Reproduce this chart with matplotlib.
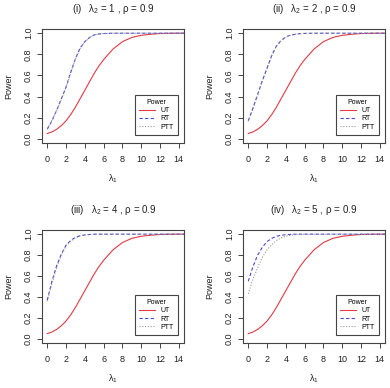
import numpy as np
import matplotlib
matplotlib.use("Agg")
import matplotlib.pyplot as plt

plt.rcParams['font.family'] = ['Liberation Sans', 'DejaVu Sans']
plt.rcParams['mathtext.fontset'] = 'custom'
plt.rcParams['mathtext.rm'] = 'Liberation Sans'

# ---- data ----
lam1 = [0, 0.5, 1, 1.5, 2, 2.5, 3, 3.5, 4, 4.5, 5, 5.5, 6, 7, 8, 9, 10, 11, 12, 13, 14, 15]

ut = [0.05, 0.065, 0.09, 0.125, 0.17, 0.23, 0.30, 0.38, 0.46, 0.54, 0.62, 0.69, 0.75,
      0.85, 0.92, 0.96, 0.98, 0.99, 0.997, 0.999, 1.0, 1.0]

rt_1 = [0.09, 0.17, 0.27, 0.38, 0.49, 0.63, 0.76, 0.86, 0.92, 0.96, 0.985, 0.993, 0.997,
        1.0, 1.0, 1.0, 1.0, 1.0, 1.0, 1.0, 1.0, 1.0]
ptt_1 = [0.10, 0.175, 0.265, 0.375, 0.485, 0.625, 0.755, 0.855, 0.918, 0.958, 0.983, 0.992, 0.997,
         1.0, 1.0, 1.0, 1.0, 1.0, 1.0, 1.0, 1.0, 1.0]

rt_2 = [0.17, 0.29, 0.42, 0.55, 0.67, 0.79, 0.88, 0.93, 0.965, 0.982, 0.99, 0.996, 0.998,
        1.0, 1.0, 1.0, 1.0, 1.0, 1.0, 1.0, 1.0, 1.0]
ptt_2 = [0.165, 0.285, 0.415, 0.545, 0.665, 0.785, 0.875, 0.928, 0.963, 0.981, 0.99, 0.996, 0.998,
         1.0, 1.0, 1.0, 1.0, 1.0, 1.0, 1.0, 1.0, 1.0]

rt_3 = [0.37, 0.55, 0.70, 0.81, 0.895, 0.94, 0.97, 0.985, 0.993, 0.997, 1.0, 1.0, 1.0,
        1.0, 1.0, 1.0, 1.0, 1.0, 1.0, 1.0, 1.0, 1.0]
ptt_3 = [0.36, 0.53, 0.68, 0.80, 0.885, 0.935, 0.965, 0.983, 0.992, 0.997, 0.999, 1.0, 1.0,
         1.0, 1.0, 1.0, 1.0, 1.0, 1.0, 1.0, 1.0, 1.0]

rt_4 = [0.55, 0.69, 0.80, 0.875, 0.93, 0.96, 0.98, 0.99, 0.995, 0.998, 1.0, 1.0, 1.0,
        1.0, 1.0, 1.0, 1.0, 1.0, 1.0, 1.0, 1.0, 1.0]
ptt_4 = [0.43, 0.57, 0.68, 0.78, 0.85, 0.90, 0.94, 0.965, 0.98, 0.99, 0.995, 0.998, 1.0,
         1.0, 1.0, 1.0, 1.0, 1.0, 1.0, 1.0, 1.0, 1.0]

titles = ['(i)', '(ii)', '(iii)', '(iv)']
lam2 = [1, 2, 4, 5]
rho = 0.9
rt_all = [rt_1, rt_2, rt_3, rt_4]
ptt_all = [ptt_1, ptt_2, ptt_3, ptt_4]

# ---- figure ----
W, H = 390, 388
fig = plt.figure(figsize=(W / 100, H / 100), dpi=100)

# axes boxes in pixels: left, top, right, bottom
boxes = [(42, 29, 184, 143), (243, 29, 385, 143),
         (42, 230, 184, 343), (243, 230, 385, 343)]

edge = '#444444'
for i, (l, t, r, b) in enumerate(boxes):
    ax = fig.add_axes([l / W, 1 - b / H, (r - l) / W, (b - t) / H])
    ax.plot(lam1, ut, color='#E03A44', lw=0.8, label='UT')
    ax.plot(lam1, rt_all[i], color='#4848D8', lw=0.8, ls=(0, (3, 2)), label='RT')
    ax.plot(lam1, ptt_all[i], color='#999999', lw=0.8, ls=(0, (1, 1.5)), label='PTT')
    ax.set_xlim(-0.56, 14.56)
    ax.set_ylim(-0.04, 1.04)
    ax.set_xticks(np.arange(0, 15, 2))
    ax.set_yticks(np.arange(0, 1.01, 0.2))
    ax.set_yticklabels([f'{v:.1f}' for v in np.arange(0, 1.01, 0.2)],
                       rotation=90, va='center')
    ax.tick_params(labelsize=6.5, length=3.5, width=0.7, color=edge,
                   labelcolor='#222222')
    ax.tick_params(axis='x', pad=5)
    ax.tick_params(axis='y', pad=3)
    for s in ax.spines.values():
        s.set_color(edge)
        s.set_linewidth(0.8)
    ax.set_ylabel('Power', fontsize=6.5, labelpad=8, color='#222222')
    ax.set_xlabel('λ$_1$', fontsize=6.5, labelpad=6, color='#222222')
    ax.set_title(f'{titles[i]}   λ$_2$ = {lam2[i]} , ρ = {rho}', fontsize=7,
                 pad=12, color='#222222')
    leg = ax.legend(loc='lower right', bbox_to_anchor=(0.955, 0.07), title='Power',
                    fontsize=5, title_fontsize=5, frameon=True, fancybox=False,
                    edgecolor=edge, handlelength=2.2, handletextpad=0.8,
                    labelspacing=0.2, borderpad=0.6, borderaxespad=0)
    leg.get_frame().set_linewidth(0.8)
    leg.get_frame().set_alpha(1)

fig.savefig('out.png', dpi=100)
